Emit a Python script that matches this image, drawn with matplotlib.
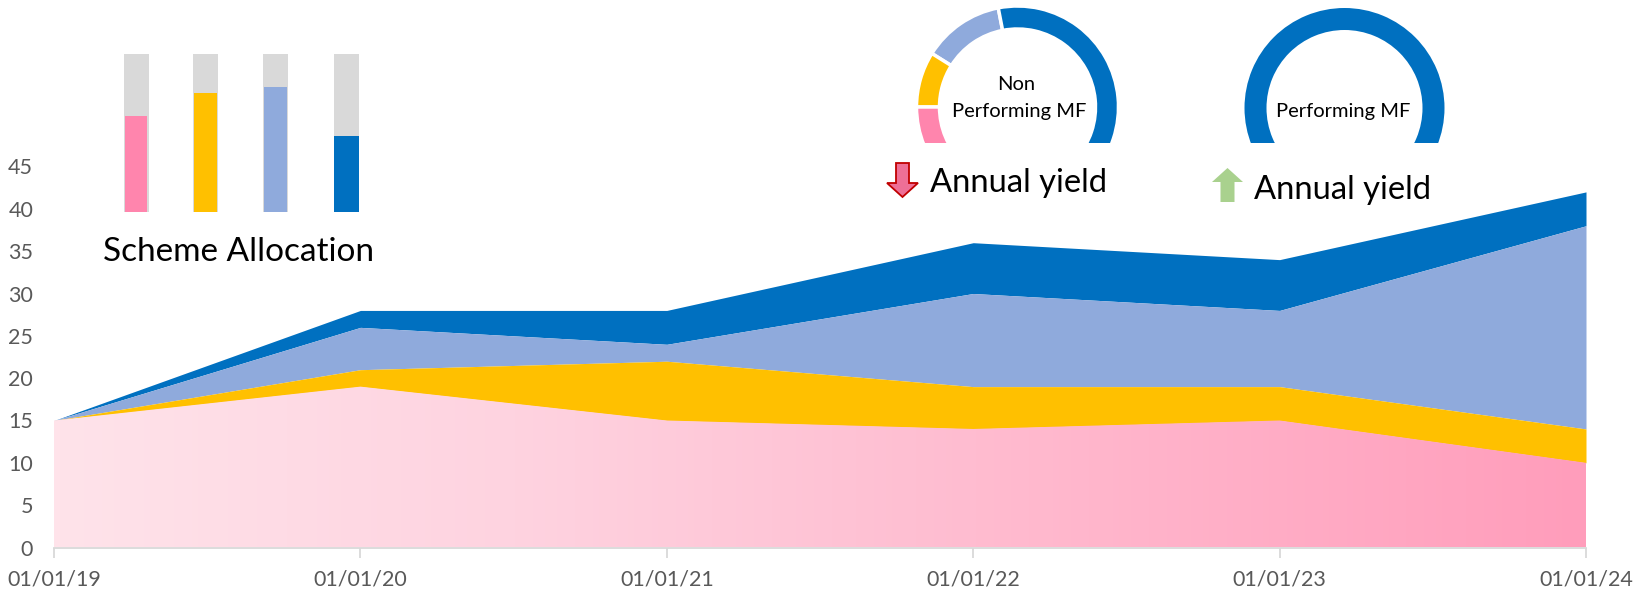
import numpy as np
import matplotlib
matplotlib.use('Agg')
import matplotlib.pyplot as plt
from matplotlib.colors import LinearSegmentedColormap
from matplotlib.patches import FancyArrow

plt.rcParams['font.family'] = ['Lato', 'DejaVu Sans']

W, H = 1640, 594

# area chart
dates = ['01/01/19', '01/01/20', '01/01/21', '01/01/22', '01/01/23', '01/01/24']
pink = [15, 19, 15, 14, 15, 10]
yellow = [0, 2, 7, 5, 4, 4]
light_blue = [0, 5, 2, 11, 9, 24]
dark_blue = [0, 2, 4, 6, 6, 4]
yticks = [0, 5, 10, 15, 20, 25, 30, 35, 40, 45]

# small bars, percent filled
bar_fill = [61, 75, 79, 48]
bar_total = [100, 100, 100, 100]

# doughnuts
donut_vals = [47, 32, 90, 191]
donut_full = [1]

PINK = '#ff85ad'
YELLOW = '#ffc000'
LIGHT = '#8faadc'
DARK = '#0070c0'
GREY = '#d9d9d9'
TXT = '#595959'


def px_axes(fig, x0, y0, x1, y1, **kw):
    # pixel box, y from the top of the picture
    return fig.add_axes([x0 / W, 1 - y1 / H, (x1 - x0) / W, (y1 - y0) / H], **kw)


fig = plt.figure(figsize=(W / 100, H / 100), dpi=100)

x0, x1 = 54, 1586
y_zero, y_45 = 547.5, 166.5
ax = px_axes(fig, x0, y_45, x1, y_zero)
x = np.arange(len(dates))
ax.set_xlim(0, 5)
ax.set_ylim(0, 45)

pink = np.array(pink)
yellow_top = pink + np.array(yellow)
light_top = yellow_top + np.array(light_blue)
dark_top = light_top + np.array(dark_blue)

ax.fill_between(x, light_top, dark_top, color=DARK, lw=0, clip_on=False)
ax.fill_between(x, yellow_top, light_top, color=LIGHT, lw=0)
ax.fill_between(x, pink, yellow_top, color=YELLOW, lw=0)
area = ax.fill_between(x, 0, pink, color='none', lw=0)

cm = LinearSegmentedColormap.from_list('pk', [(0, '#ffe3ea'), (0.3, '#fed3e0'), (0.6, '#ffbcd0'), (1, '#ff9dbb')])
grad = np.linspace(0, 1, 256).reshape(1, -1)
im = ax.imshow(grad, extent=[0, 5, 0, 45], aspect='auto', cmap=cm, zorder=1)
im.set_clip_path(area.get_paths()[0], transform=ax.transData)

for s in ['top', 'right', 'left']:
    ax.spines[s].set_visible(False)
ax.spines['bottom'].set_color('#d9d9d9')
ax.spines['bottom'].set_linewidth(1.3)
ax.spines['bottom'].set_zorder(5)
ax.set_xticks(x)
ax.set_xticklabels(dates)
ax.set_yticks(yticks)
ax.tick_params(axis='x', length=7, width=1.3, color='#d9d9d9', labelsize=15.5, labelcolor=TXT, pad=8.5)
ax.tick_params(axis='y', length=0, labelsize=15.5, labelcolor=TXT, pad=15)

# small bars
bx = px_axes(fig, 110, 54, 372, 212)
bx.axis('off')
bx.set_xlim(110, 372)
bx.set_ylim(0, 100)
bar_pos = [136.5, 206, 276, 346.5]
bx.bar(bar_pos, bar_total, width=25, color=GREY, lw=0)
bx.bar(bar_pos, bar_fill, width=[22, 23, 23, 25], color=[PINK, YELLOW, LIGHT, DARK], lw=0)
fig.text(103 / W, 1 - 252 / H, 'Scheme Allocation', fontsize=24, color='black', va='center', ha='left')

# doughnut 1
d1 = px_axes(fig, 915, 5, 1121, 143)
d1.pie(donut_vals, colors=[LIGHT, YELLOW, PINK, DARK], startangle=101, counterclock=True,
       radius=101, center=(1017.5, -107), wedgeprops=dict(width=23, edgecolor='white', linewidth=2.5, clip_on=True))
d1.set_xlim(915, 1121)
d1.set_ylim(-143, -5)
d1.set_aspect('equal')
d1.axis('off')
fig.text(1016 / W, 1 - 85 / H, 'Non', fontsize=14.5, ha='center', va='center')
fig.text(1019 / W, 1 - 111 / H, 'Performing MF', fontsize=14.5, ha='center', va='center')

# doughnut 2
d2 = px_axes(fig, 1242, 5, 1448, 143)
d2.pie(donut_full, colors=[DARK], radius=100, center=(1344.5, -108), wedgeprops=dict(width=22, linewidth=0, clip_on=True))
d2.set_xlim(1242, 1448)
d2.set_ylim(-143, -5)
d2.set_aspect('equal')
d2.axis('off')
fig.text(1343 / W, 1 - 111 / H, 'Performing MF', fontsize=14.5, ha='center', va='center')

# arrows and labels
ov = px_axes(fig, 0, 0, W, H)
ov.set_xlim(0, W)
ov.set_ylim(H, 0)
ov.axis('off')
ov.patch.set_alpha(0)
ov.add_patch(FancyArrow(902.5, 163, 0, 34, width=13, head_width=31, head_length=14, length_includes_head=True,
                        facecolor='#ee6f96', edgecolor='#c00000', lw=1.3))
ov.add_patch(FancyArrow(1227.5, 202, 0, -34, width=14, head_width=31, head_length=14, length_includes_head=True,
                        facecolor='#a9d18e', edgecolor='none'))
ov.text(930, 183, 'Annual yield', fontsize=23.6, va='center', ha='left')
ov.text(1254, 190, 'Annual yield', fontsize=23.6, va='center', ha='left')

fig.savefig('out.png', dpi=100)
